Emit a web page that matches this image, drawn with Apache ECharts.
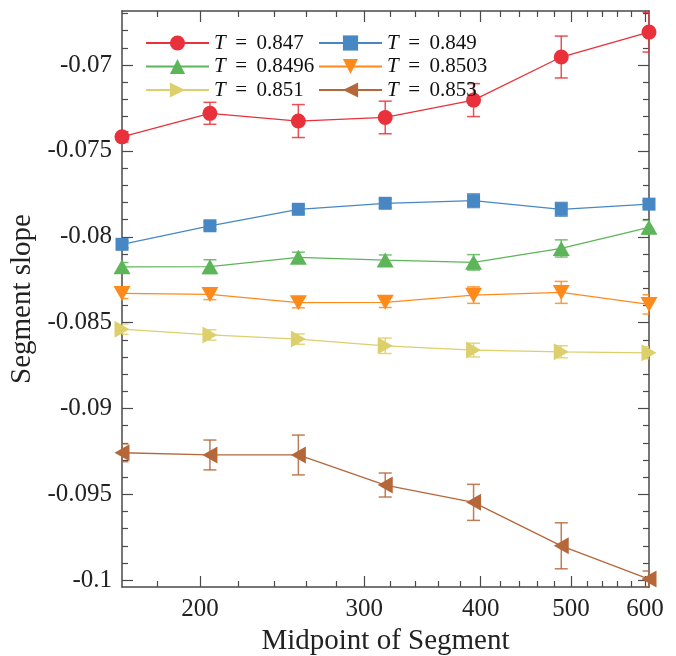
<!DOCTYPE html>
<html>
<head>
<meta charset="utf-8">
<script src="https://cdn.jsdelivr.net/npm/echarts@6/dist/echarts.min.js"></script>
<style>html,body{margin:0;padding:0;background:#fff;}#c{width:676px;height:656px;}</style>
</head>
<body>
<div id="c"></div>
<script>
// ---- data ----
const xMid = [165, 205, 255, 316, 393, 488, 606];
const seriesNames = ['T = 0.847', 'T = 0.849', 'T = 0.8496', 'T = 0.8503', 'T = 0.851', 'T = 0.853'];
const y847  = [-0.07418, -0.07281, -0.07326, -0.07305, -0.07204, -0.06953, -0.06808];
const e847  = [0.0003, 0.00064, 0.00096, 0.00095, 0.00096, 0.00122, 0.00116];
const y849  = [-0.08044, -0.07936, -0.07840, -0.07805, -0.07790, -0.07840, -0.07810];
const e849  = [0.0002, 0.0002, 0.0002, 0.00025, 0.0004, 0.0004, 0.0002];
const y8496 = [-0.08175, -0.08174, -0.08120, -0.08136, -0.08149, -0.08068, -0.07945];
const e8496 = [0.00025, 0.0004, 0.0003, 0.0003, 0.00045, 0.0005, 0.0004];
const y8503 = [-0.08330, -0.08336, -0.08384, -0.08382, -0.08340, -0.08324, -0.08394];
const e8503 = [0.0003, 0.0003, 0.0003, 0.0003, 0.00048, 0.00064, 0.00056];
const y851  = [-0.08538, -0.08572, -0.08596, -0.08635, -0.08660, -0.08670, -0.08676];
const e851  = [0.0003, 0.0003, 0.0003, 0.00045, 0.0004, 0.00035, 0.00035];
const y853  = [-0.09258, -0.09271, -0.09271, -0.09446, -0.09547, -0.09800, -0.09994];
const e853  = [0.00052, 0.00087, 0.00116, 0.0007, 0.00105, 0.00134, 0.00047];

const xMajorTicks = [200, 300, 400, 500, 600];
const xMinorTicks = [180, 220, 240, 260, 280, 320, 340, 360, 380, 420, 440, 460, 480, 520, 540, 560, 580];
const yMajorTicks = [-0.1, -0.095, -0.09, -0.085, -0.08, -0.075, -0.07];
const xRange = [165, 606];
const yRange = [-0.1004, -0.06685];

// ---- styling ----
const FONT = 'Liberation Serif';
const colors = ['#e8313a', '#4787c3', '#5db55a', '#ff8a1c', '#ddcf6c', '#b5673a'];
const symbols = ['circle', 'rect', 'triangle', 'triangle', 'triangle', 'triangle'];
const rotates = [0, 0, 0, 180, -90, 90];
const sizes = [15, 13, [17, 15], [17, 15], [17, 15], [17, 15]];
const ys = [y847, y849, y8496, y8503, y851, y853];
const es = [e847, e849, e8496, e8503, e851, e853];

const yMinorTicks = [];
for (let i = 0; i <= 33; i++) {
  const v = Math.round((-0.1 + i * 0.001) * 1e6) / 1e6;
  if (i % 5 !== 0) yMinorTicks.push(v);
}
const lx = v => Math.log10(v);
const axisColor = '#4a4a4a';

function tickX(pos, vals, len, labels, lineShow) {
  return {
    type: 'value', position: pos, min: lx(xRange[0]), max: lx(xRange[1]),
    axisLine: { show: lineShow, onZero: false, lineStyle: { color: axisColor, width: 1.5 } },
    axisTick: { show: true, inside: true, length: len, customValues: vals.map(lx), lineStyle: { color: axisColor, width: 1.2 } },
    axisLabel: labels ? { show: true, customValues: vals.map(lx), margin: 10, fontFamily: FONT, fontSize: 25, color: '#222',
      formatter: v => String(Math.round(Math.pow(10, v))) } : { show: false },
    splitLine: { show: false }
  };
}
function tickY(pos, vals, len, labels, lineShow) {
  return {
    type: 'value', position: pos, min: yRange[0], max: yRange[1],
    axisLine: { show: lineShow, onZero: false, lineStyle: { color: axisColor, width: 1.5 } },
    axisTick: { show: true, inside: true, length: len, customValues: vals, lineStyle: { color: axisColor, width: 1.2 } },
    axisLabel: labels ? { show: true, customValues: vals, margin: 10, fontFamily: FONT, fontSize: 25, color: '#222',
      formatter: v => String(v) } : { show: false },
    splitLine: { show: false }
  };
}

const xAxes = [
  { type: 'log', logBase: 10, min: xRange[0], max: xRange[1], position: 'bottom',
    axisLine: { show: true, onZero: false, lineStyle: { color: axisColor, width: 1.5 } },
    axisTick: { show: false }, axisLabel: { show: false }, splitLine: { show: false },
    name: 'Midpoint of Segment', nameLocation: 'middle', nameGap: 40,
    nameTextStyle: { fontFamily: FONT, fontSize: 29, color: '#222' } },
  tickX('bottom', xMajorTicks, 11, true, false),
  tickX('bottom', xMinorTicks, 6, false, false),
  tickX('top', xMajorTicks, 11, false, true),
  tickX('top', xMinorTicks, 6, false, false)
];
const yAxes = [
  Object.assign(tickY('left', yMajorTicks, 11, true, true), {
    name: 'Segment slope', nameLocation: 'middle', nameGap: 84,
    nameTextStyle: { fontFamily: FONT, fontSize: 29, color: '#222' } }),
  tickY('left', yMinorTicks, 6, false, false),
  tickY('right', yMajorTicks, 11, false, true),
  tickY('right', yMinorTicks, 6, false, false)
];

const series = [];
for (let k = 0; k < 6; k++) {
  const c = colors[k];
  series.push({
    type: 'custom', xAxisIndex: 0, yAxisIndex: 0, clip: true, z: 2, silent: true,
    data: xMid.map((x, i) => [x, ys[k][i] - es[k][i], ys[k][i] + es[k][i]]),
    encode: { x: 0, y: [1, 2] },
    renderItem: (params, api) => {
      const x = api.value(0);
      const p1 = api.coord([x, api.value(1)]);
      const p2 = api.coord([x, api.value(2)]);
      const w = 6.5;
      const st = { stroke: c, lineWidth: 1.5, opacity: 0.85 };
      return { type: 'group', children: [
        { type: 'line', shape: { x1: p1[0], y1: p1[1], x2: p2[0], y2: p2[1] }, style: st },
        { type: 'line', shape: { x1: p1[0] - w, y1: p1[1], x2: p1[0] + w, y2: p1[1] }, style: st },
        { type: 'line', shape: { x1: p2[0] - w, y1: p2[1], x2: p2[0] + w, y2: p2[1] }, style: st }
      ] };
    }
  });
  series.push({
    name: seriesNames[k], type: 'line', xAxisIndex: 0, yAxisIndex: 0, z: 3,
    data: xMid.map((x, i) => [x, ys[k][i]]),
    symbol: symbols[k], symbolSize: sizes[k], symbolRotate: rotates[k],
    showAllSymbol: true, clip: false,
    itemStyle: { color: c, opacity: 1 },
    lineStyle: { color: c, width: 1.3 },
    emphasis: { disabled: true }, animation: false
  });
}

const legendText = {
  fontFamily: FONT, fontSize: 21, color: '#111',
  rich: { i: { fontFamily: FONT, fontSize: 21, fontStyle: 'italic', color: '#111' } }
};
const legendFmt = n => '{i|T}\u2009' + n.slice(1).replace('=', '=\u2009');
const option = {
  backgroundColor: '#fff',
  animation: false,
  grid: { left: 122, right: 27, top: 11, bottom: 69, containLabel: false, outerBoundsMode: 'none' },
  legend: [
    { data: [seriesNames[0], seriesNames[2], seriesNames[4]], orient: 'vertical', left: 145, top: 32.5, padding: 0,
      itemWidth: 63, itemHeight: 19, itemGap: 2.5, textStyle: legendText, formatter: legendFmt, selectedMode: false },
    { data: [seriesNames[1], seriesNames[3], seriesNames[5]], orient: 'vertical', left: 318, top: 32.5, padding: 0,
      itemWidth: 63, itemHeight: 19, itemGap: 2.5, textStyle: legendText, formatter: legendFmt, selectedMode: false }
  ],
  xAxis: xAxes,
  yAxis: yAxes,
  series: series
};
const chart = echarts.init(document.getElementById('c'), null, { renderer: 'canvas' });
chart.setOption(option);
</script>
</body>
</html>
